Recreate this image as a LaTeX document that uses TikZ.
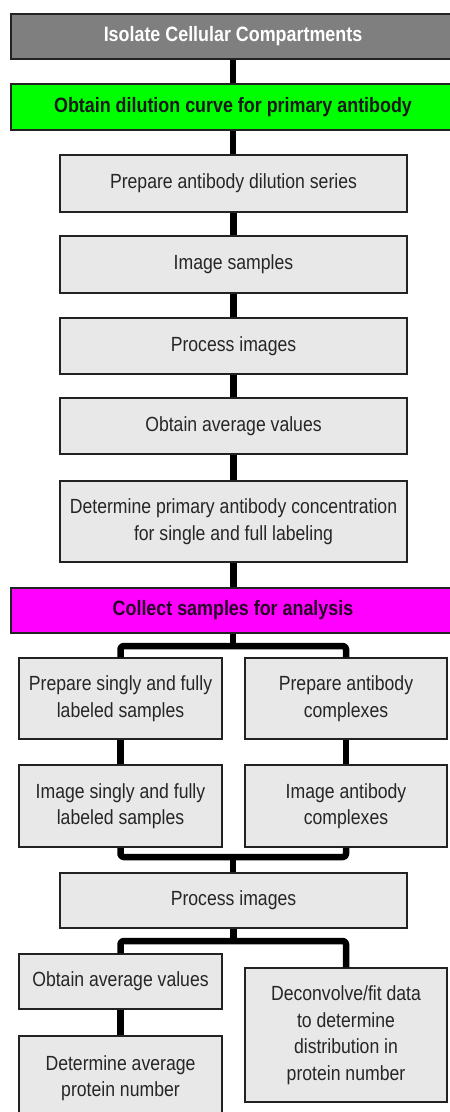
\documentclass[tikz,border=0pt]{standalone}
\usepackage{fontspec}
\setmainfont{Liberation Sans}[FakeStretch=0.86]
\definecolor{boxfill}{HTML}{E8E8E8}
\definecolor{topgray}{HTML}{7F7F7F}
\definecolor{hgreen}{HTML}{00FF00}
\definecolor{hmag}{HTML}{FF00FF}
\definecolor{edge}{HTML}{222222}
\begin{document}
\begin{tikzpicture}[x=1pt,y=-1pt,
  stepbox/.style={draw=edge, line width=1.5pt, fill=boxfill, inner sep=0pt, align=center,
    font=\fontsize{20.5}{26.5}\selectfont, text=black!85},
  headbox/.style={draw=edge, line width=1.5pt, inner sep=0pt, align=center,
    font=\fontsize{20.8}{24}\selectfont\bfseries},
  conn/.style={line width=6.5pt, black, line join=round}]
\clip (0,0) rectangle (450,1112);
\fill[white] (0,0) rectangle (450,1112);
% headers
\node[headbox, fill=topgray, text=white, minimum width=444, minimum height=45] (iso) at (233,36.5) {Isolate Cellular Compartments};
\node[headbox, fill=hgreen, text=black!90, minimum width=444, minimum height=46] (dil) at (233,107) {Obtain dilution curve for primary antibody};
% upper column
\node[stepbox, minimum width=347, minimum height=57] (prep) at (233.5,183.5) {Prepare antibody dilution series};
\node[stepbox, minimum width=347, minimum height=57] (img) at (233.5,264.5) {Image samples};
\node[stepbox, minimum width=347, minimum height=56] (proc) at (233.5,346) {Process images};
\node[stepbox, minimum width=347, minimum height=56] (avg) at (233.5,426) {Obtain average values};
\node[stepbox, minimum width=347, minimum height=81] (det) at (233.5,521.5) {Determine primary antibody concentration\\for single and full labeling};
\node[headbox, fill=hmag, text=black!85!hmag, minimum width=444, minimum height=45] (col) at (233,610.5) {Collect samples for analysis};
% two columns
\node[stepbox, minimum width=203, minimum height=81] (l1) at (120.5,698.5) {Prepare singly and fully\\labeled samples};
\node[stepbox, minimum width=202, minimum height=81] (r1) at (346,698.5) {Prepare antibody\\complexes};
\node[stepbox, minimum width=203, minimum height=82] (l2) at (120.5,806) {Image singly and fully\\labeled samples};
\node[stepbox, minimum width=202, minimum height=82] (r2) at (346,806) {Image antibody\\complexes};
\node[stepbox, minimum width=347, minimum height=55] (proc2) at (233.5,900.5) {Process images};
\node[stepbox, minimum width=203, minimum height=55] (la) at (120.5,981.5) {Obtain average values};
\node[stepbox, minimum width=203, minimum height=84] (ld) at (120.5,1078) {Determine average\\protein number};
\node[stepbox, minimum width=202, minimum height=134] (rd) at (346,1035) {Deconvolve/fit data\\to determine\\distribution in\\protein number};
% branch points
\coordinate (b1) at (233,646);
\coordinate (m1) at (233,857);
\coordinate (b2) at (233,941);
% connectors
\draw[conn] (iso.south) -- (dil.north);
\draw[conn] (dil.south) -- (dil.south |- prep.north);
\draw[conn] (prep.south) -- (prep.south |- img.north);
\draw[conn] (img.south) -- (img.south |- proc.north);
\draw[conn] (proc.south) -- (proc.south |- avg.north);
\draw[conn] (avg.south) -- (avg.south |- det.north);
\draw[conn] (det.south) -- (det.south |- col.north);
\draw[conn] (col.south) -- (b1);
\draw[conn, rounded corners=3pt] (l1.north) |- (b1) -| (r1.north);
\draw[conn] (l1.south) -- (l2.north);
\draw[conn] (r1.south) -- (r2.north);
\draw[conn, rounded corners=3pt] (l2.south) |- (m1) -| (r2.south);
\draw[conn] (m1) -- (m1 |- proc2.north);
\draw[conn] (proc2.south) -- (proc2.south |- b2);
\draw[conn, rounded corners=3pt] (la.north) |- (b2) -| (rd.north);
\draw[conn] (la.south) -- (ld.north);
\end{tikzpicture}
\end{document}
